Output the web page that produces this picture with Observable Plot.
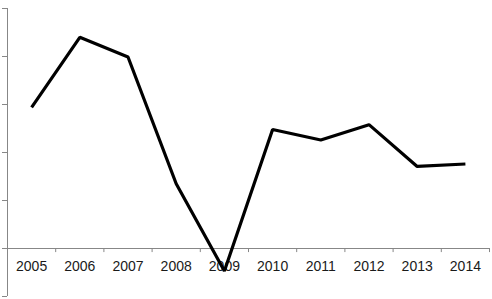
<!DOCTYPE html>
<html><head><meta charset="utf-8">
<script src="https://cdn.jsdelivr.net/npm/d3@7"></script>
<script src="https://cdn.jsdelivr.net/npm/@observablehq/plot@0.6"></script>
<style>html,body{margin:0;padding:0;background:#fff}svg{display:block}</style>
</head><body><div id="chart"></div>
<script>
const years = [2005, 2006, 2007, 2008, 2009, 2010, 2011, 2012, 2013, 2014];
const values = [2.94, 4.40, 3.99, 1.35, -0.47, 2.48, 2.26, 2.58, 1.71, 1.76];
const yTicks = [-1, 0, 1, 2, 3, 4, 5];
const xBoundaries = [2004.5, 2005.5, 2006.5, 2007.5, 2008.5, 2009.5, 2010.5, 2011.5, 2012.5, 2013.5, 2014.5];

const data = years.map((year, i) => ({year, value: values[i]}));
const axisColor = "#878787";

const chart = Plot.plot({
  width: 492,
  height: 299,
  marginLeft: 7,
  marginRight: 3,
  marginTop: 8,
  marginBottom: 3,
  style: {fontFamily: "'Liberation Sans', Arial, sans-serif", fontSize: "14px", background: "#fff", color: "#000"},
  x: {domain: [2004.5, 2014.5], axis: null},
  y: {domain: [-1, 5], axis: null},
  marks: [
    Plot.axisY(yTicks, {anchor: "left", tickSize: 5, tickFormat: () => "", label: null, stroke: axisColor, strokeOpacity: 1}),
    Plot.ruleX([2004.5], {stroke: axisColor, strokeWidth: 1}),
    Plot.ruleY([0], {stroke: axisColor, strokeWidth: 1}),
    Plot.ruleX(xBoundaries, {x: d => d, y1: 0, y2: -0.085, stroke: axisColor, strokeWidth: 1}),
    Plot.text(years, {x: d => d, y: 0, dy: 18.5, text: d => String(d), fill: "#1a1a1a", textAnchor: "middle"}),
    Plot.line(data, {x: "year", y: "value", stroke: "#000", strokeWidth: 3.2, strokeLinejoin: "miter", strokeLinecap: "butt"})
  ]
});
document.getElementById("chart").append(chart);
</script>
</body></html>
